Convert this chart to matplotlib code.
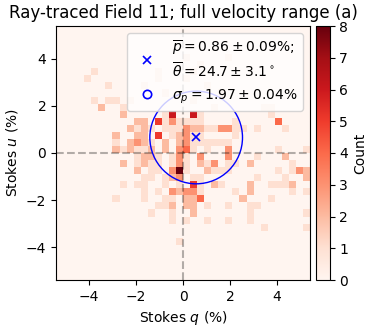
import numpy as np
import matplotlib
matplotlib.use('Agg')
import matplotlib.pyplot as plt
from matplotlib.lines import Line2D
from matplotlib.patches import Circle

# counts per 0.3% bin, top row (u = +5.4) first, left column (q = -5.4) first
count_rows = [
    "000000 000000 000000 000000 000000 000000",
    "000000 000000 000000 000000 000000 000000",
    "000000 000000 000000 000000 000000 000000",
    "000000 000000 000000 000000 000000 000000",
    "000000 000000 000000 100000 100000 000000",
    "000000 000000 000000 001000 000000 000000",
    "000001 000000 001000 010000 000000 000000",
    "000010 000000 001000 100000 000000 000000",
    "000000 010000 100000 000100 000000 000000",
    "000000 000000 000100 000001 000000 000000",
    "000001 011010 000000 010000 000000 000000",
    "000000 200100 000000 000010 000001 100000",
    "000000 000200 000160 061000 000000 100000",
    "000000 000002 205131 111000 010000 040000",
    "000000 000021 210111 322113 311010 001000",
    "000000 002002 205012 311000 010000 000000",
    "000000 001023 210202 311111 100000 000000",
    "000000 002121 120203 410100 300000 010001",
    "000000 000001 221013 103000 300010 002000",
    "000000 000201 211013 102130 110200 000100",
    "000000 000002 011038 100211 100000 010132",
    "000000 000000 110123 011000 000010 001002",
    "000000 000101 100101 051021 000200 111200",
    "000000 000000 101032 331000 010200 000101",
    "000000 001000 100110 224000 002000 100000",
    "000000 000000 001120 220100 100110 000000",
    "000000 000000 010010 020000 000100 000001",
    "000000 000000 000010 100100 100100 000000",
    "000000 000000 000000 000000 000001 000001",
    "000000 000000 000000 000000 000000 000000",
    "000000 000000 000001 000000 000000 000000",
    "000000 000000 000000 000000 000000 000000",
    "000000 000000 000000 000000 000000 000000",
    "000000 000000 000000 000000 000000 000000",
    "000000 000000 000000 000000 000000 000000",
    "000000 000000 000000 000000 000000 000000",
]
mean_q = 0.56
mean_u = 0.66
sigma_p = 1.97
edges = np.linspace(-5.4, 5.4, 37)
ticks = [-4, -2, 0, 2, 4]

counts = np.array([[int(c) for c in row.replace(' ', '')] for row in count_rows])[::-1]

fig = plt.figure(figsize=(3.89, 3.30), dpi=100)
ax = fig.add_axes([56 / 389, 1 - 280 / 330, 254 / 389, 254 / 330])
cax = fig.add_axes([316 / 389, 1 - 280 / 330, 13.5 / 389, 254 / 330])

mesh = ax.pcolormesh(edges, edges, counts, cmap='Reds', vmin=0, vmax=8)
ax.axhline(0, color='k', ls='--', alpha=0.3, lw=1.5)
ax.axvline(0, color='k', ls='--', alpha=0.3, lw=1.5)
ax.add_patch(Circle((mean_q, mean_u), sigma_p, fill=False, color='b', lw=1))
ax.plot(mean_q, mean_u, 'x', color='b', ms=6, mew=1.2)

ax.set_xlim(-5.4, 5.4)
ax.set_ylim(-5.4, 5.4)
ax.set_xticks(ticks)
ax.set_yticks(ticks)
ax.set_xlabel('Stokes $q$ (%)')
ax.set_ylabel('Stokes $u$ (%)')
ax.set_title('Ray-traced Field 11; full velocity range (a)', fontsize=12)

handles = [
    Line2D([], [], ls='none', marker='x', color='b', ms=6, mew=1.2),
    Line2D([], [], ls='none', marker='o', mfc='none', color='b', ms=6, mew=1.2),
]
labels = [
    '$\\overline{p} = 0.86 \\pm 0.09\\%$;\n$\\overline{\\theta} = 24.7 \\pm 3.1^\\circ$',
    '$\\sigma_p = 1.97 \\pm 0.04\\%$',
]
ax.legend(handles, labels, loc='upper right', fontsize=10)

cb = fig.colorbar(mesh, cax=cax, ticks=range(9))
cb.set_label('Count')

fig.savefig('out.png', dpi=100)
plt.close()
